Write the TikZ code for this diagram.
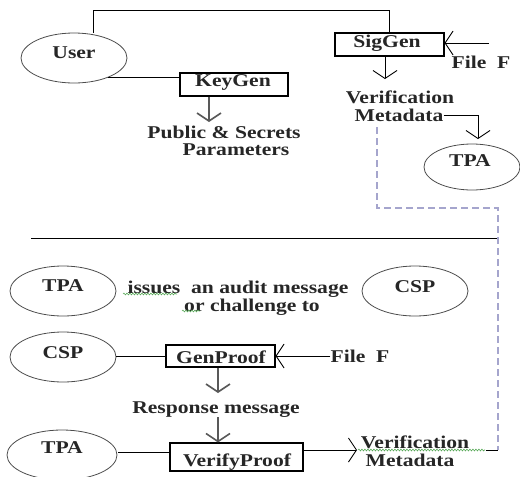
\documentclass[tikz,border=0pt]{standalone}
\usepackage{fontspec}
\setmainfont{Liberation Serif}[FakeStretch=1.2]
\usetikzlibrary{arrows.meta,shapes.geometric,decorations.pathmorphing}

\begin{document}
\begin{tikzpicture}[x=1pt,y=-1pt,
  txt/.style={font=\fontsize{18}{17}\selectfont\bfseries, inner sep=0pt, text=black!85},
  actor/.style={draw=black!70, line width=0.8pt, ellipse, inner sep=0pt,
                minimum width=106pt, minimum height=50pt},
  proc/.style={draw=black, line width=1.1pt, inner sep=0pt},
  wire/.style={draw=black, line width=0.9pt},
  barb/.style={-{Straight Barb[length=8pt,width=24pt]}},
  heavy/.style={draw=black!65, line width=1.6pt,
                -{Straight Barb[length=8pt,width=24pt]}},
  trail/.style={draw={rgb,255:red,165;green,165;blue,205}, line width=1.3pt,
                dash pattern=on 7pt off 4pt},
  squiggle/.style={draw={rgb,255:red,90;green,170;blue,90}, line width=0.6pt,
                   decorate, decoration={snake, amplitude=0.9pt, segment length=3pt}}]

\useasboundingbox (0,0) rectangle (520,477);

% ---------- key and signature generation ----------
\node[actor] (user) at (74,58) {};
\node[txt] at (74,53) {User};

\node[proc, minimum width=108pt, minimum height=23pt] (kg) at (234,84.5) {};
\node[txt] at (233,82) {KeyGen};

\node[proc, minimum width=109pt, minimum height=23pt] (sg) at (389.5,44.5) {};
\node[txt] at (387,43) {SigGen};

\node[txt] (fileA) at (481,62) {File\ \ F};
\node[txt] (params1) at (224,132) {Public \& Secrets};
\node[txt] (params2) at (236,150) {Parameters};
\node[txt] (vm1) at (400,97) {Verification};
\node[txt] (vm2) at (399,115) {Metadata};

\node[actor, minimum width=96pt, minimum height=46pt] (tpaA) at (472,167) {};
\node[txt] at (470,161) {TPA};

% user to SigGen across the top, user to KeyGen
\coordinate (topL) at (93,10);
\draw[wire] (sg.north) |- (topL) -- (topL |- user.north);
\draw[wire] (user.-30) -- (user.-30 -| kg.west);
% file into SigGen
\coordinate (fa) at (489,43);
\draw[wire, barb] (fa) -- (fa -| sg.east);
% outputs
\coordinate (kgo) at (209,122);
\draw[heavy] (kgo |- kg.south) -- (kgo);
\coordinate (sgo) at (385,79);
\draw[wire, barb] (sgo |- sg.south) -- (sgo);
\coordinate (vmo) at (478,139);
\draw[wire, barb] (vm2.east) -| (vmo);

% ---------- divider ----------
\coordinate (dl) at (31,238);
\coordinate (dr) at (498,238);
\draw[wire, line width=1pt] (dl) -- (dr);

% ---------- challenge and proof ----------
\node[actor] (tpaB) at (63,291) {};
\node[txt] at (63,286) {TPA};
\node[txt] (iss1) at (238,289) {issues\ \ an audit message};
\node[txt] (iss2) at (252,307) {or challenge to};
\node[actor] (cspA) at (415,291) {};
\node[txt] at (415,287) {CSP};

\node[actor] (cspB) at (63,357) {};
\node[txt] at (63,353) {CSP};
\node[proc, minimum width=109pt, minimum height=22pt] (gp) at (220.5,356) {};
\node[txt] at (221,357) {GenProof};
\node[txt] (fileB) at (360,356) {File\ \ F};
\node[txt] (resp) at (216,410) {Response message};

\node[actor, minimum width=110pt] (tpaC) at (62,455) {};
\node[txt] at (62,448) {TPA};
\node[proc, minimum width=133pt, minimum height=28pt] (vp) at (236.5,457) {};
\node[txt] at (237,462) {VerifyProof};
\node[txt] (vm3) at (415,442) {Verification};
\node[txt] (vm4) at (410,460) {Metadata};

\draw[wire] (cspB.east |- gp.west) -- (gp.west);
\draw[wire, barb] (fileB.west) -- (gp.east);
\coordinate (gpo) at (218,393);
\draw[heavy] (gpo |- gp.south) -- (gpo);
\coordinate (vpi) at (218,417);
\draw[heavy] (vpi) -- (vpi |- vp.north);
\coordinate (tcl) at (118,452);
\draw[wire] (tcl) -- (tcl -| vp.west);
\coordinate (vmi) at (357,450);
\draw[wire, barb] (vmi -| vp.east) -- (vmi);

% metadata handed on to the auditor
\coordinate (t1) at (377,127);
\coordinate (t2) at (377,208);
\coordinate (t3) at (498,208);
\coordinate (t4) at (498,450);
\coordinate (t5) at (486,450);
\draw[trail] (t1) -- (t2) -- (t3) -- (t4);
\draw[wire] (t5) -- (t4);

% spelling marks
\coordinate (s1a) at (123,294); \coordinate (s1b) at (177,294);
\coordinate (s2a) at (182,311); \coordinate (s2b) at (200,311);
\coordinate (s3a) at (358,450); \coordinate (s3b) at (485,450);
\draw[squiggle] (s1a) -- (s1b);
\draw[squiggle] (s2a) -- (s2b);
\draw[squiggle] (s3a) -- (s3b);

\end{tikzpicture}
\end{document}
